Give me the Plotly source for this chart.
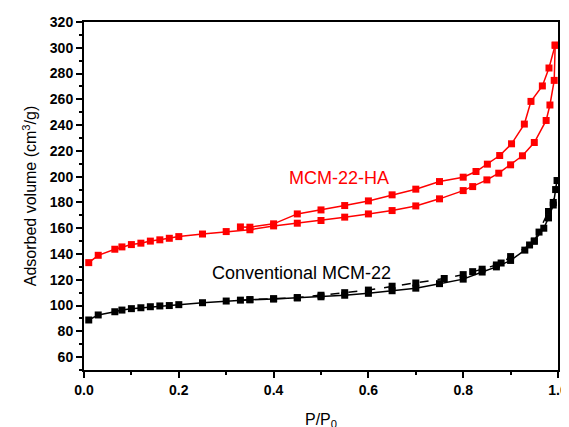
import plotly.graph_objects as go

# Red: MCM-22-HA
ha_ads_p = [0.01, 0.03, 0.065, 0.08, 0.10, 0.12, 0.14, 0.16, 0.18, 0.20, 0.25, 0.30, 0.35, 0.40,
            0.45, 0.50, 0.55, 0.60, 0.65, 0.70, 0.75, 0.80, 0.82, 0.85, 0.875, 0.90, 0.925, 0.95,
            0.975, 0.983, 0.992, 0.994]
ha_ads_v = [133.3, 139, 143.7, 145.5, 147.3, 148.4, 150, 151, 152.2, 153.5, 155.5, 157.4, 158.8, 161.8,
            163.9, 166, 168.6, 171.1, 173.7, 177.3, 182.8, 189.2, 192.3, 197.5, 202.7, 209.2, 216.2, 226.5,
            243.6, 255.6, 274.7, 302]
ha_des_p = [0.994, 0.981, 0.967, 0.943, 0.929, 0.902, 0.877, 0.851, 0.827, 0.80, 0.75, 0.70, 0.65,
            0.60, 0.55, 0.50, 0.45, 0.40, 0.35, 0.33]
ha_des_v = [302, 284.3, 270.4, 258.4, 240.8, 225.5, 216.4, 209.7, 204, 199.6, 196.2, 190.3, 185.9,
            181.2, 177.6, 174.2, 171.1, 163.4, 160.8, 161.0]

# Black: Conventional MCM-22
cv_ads_p = [0.01, 0.03, 0.065, 0.08, 0.10, 0.12, 0.14, 0.16, 0.18, 0.20, 0.25, 0.30, 0.35, 0.40,
            0.45, 0.50, 0.55, 0.60, 0.65, 0.70, 0.75, 0.80, 0.84, 0.87, 0.90, 0.93, 0.95, 0.97,
            0.98, 0.99, 0.995]
cv_ads_v = [88.8, 92.7, 95.2, 96.5, 97.6, 98.3, 99.1, 99.7, 100.0, 100.7, 102.2, 103.5, 104.5, 105.1,
            105.9, 106.8, 108.0, 109.5, 111.5, 113.5, 117.0, 120.5, 126, 130, 135, 143, 150, 160,
            168, 178, 190]
cv_des_p = [0.998, 0.99, 0.98, 0.96, 0.95, 0.94, 0.90, 0.88, 0.87, 0.84, 0.82, 0.80, 0.76, 0.70,
            0.65, 0.60, 0.55, 0.50, 0.45, 0.40, 0.35, 0.33]
cv_des_v = [197, 180, 173, 157, 150, 147, 138, 133, 131.5, 128.2, 126.3, 124, 121, 117.5,
            115, 112, 110, 108, 106.2, 105.3, 104.6, 104.2]

labels = ["MCM-22-HA", "Conventional MCM-22"]
x_ticks = [0.0, 0.2, 0.4, 0.6, 0.8, 1.0]
y_ticks = list(range(60, 321, 20))

RED = "#ff0000"
BLK = "#000000"
FONT = "Liberation Sans, Arial, sans-serif"

fig = go.Figure()
for px, vy, col, dash in [
    (cv_ads_p, cv_ads_v, BLK, "solid"),
    (cv_des_p, cv_des_v, BLK, "dash"),
    (ha_ads_p, ha_ads_v, RED, "solid"),
    (ha_des_p, ha_des_v, RED, "solid"),
]:
    fig.add_trace(go.Scatter(
        x=px, y=vy, mode="lines+markers",
        line=dict(color=col, width=1.5, dash=dash),
        marker=dict(symbol="square", size=7, color=col),
        showlegend=False,
    ))

fig.add_annotation(x=0.539, y=199, text=labels[0], showarrow=False,
                   font=dict(family=FONT, size=18, color=RED))
fig.add_annotation(x=0.459, y=125, text=labels[1], showarrow=False,
                   font=dict(family=FONT, size=18, color=BLK))

axis_common = dict(
    showline=True, linecolor="black", linewidth=2, mirror=True,
    ticks="outside", ticklen=6, tickwidth=1.5, tickcolor="black",
    showgrid=False, zeroline=False, automargin=False,
    tickfont=dict(family=FONT, size=14, color="black"),
    title_font=dict(family=FONT, size=16, color="black"),
)

fig.update_xaxes(range=[0, 1], tickvals=x_ticks, ticktext=[f"<b>{v:.1f}</b>" for v in x_ticks],
                 minor=dict(ticks="outside", ticklen=3, tickwidth=1.5, tickcolor="black",
                            tickvals=[0.1, 0.3, 0.5, 0.7, 0.9]),
                 title_text="P/P<sub>0</sub>", title_standoff=17, **axis_common)
fig.update_yaxes(range=[50, 320], tickvals=y_ticks, ticktext=[f"<b>{v}</b>" for v in y_ticks],
                 minor=dict(ticks="outside", ticklen=3, tickwidth=1.5, tickcolor="black",
                            tickvals=list(range(50, 320, 20))),
                 title_text="Adsorbed volume (cm<sup>3</sup>/g)", title_standoff=9, **axis_common)

# The page body adds an 8px offset; margins compensate so the plot area
# lands where it is in the reference.
fig.update_layout(
    width=569, height=427,
    margin=dict(l=76, r=19, t=14, b=65),
    paper_bgcolor="white", plot_bgcolor="white",
)

fig.write_html("out.html")
